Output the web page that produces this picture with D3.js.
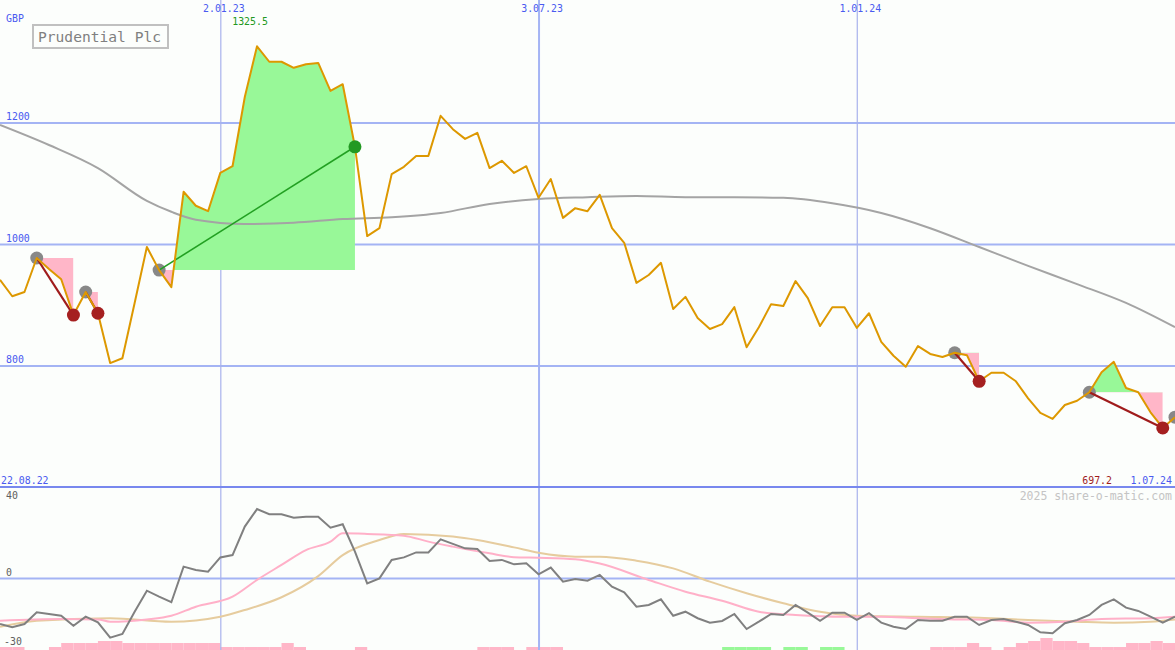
<!DOCTYPE html>
<html>
<head>
<meta charset="utf-8">
<script src="https://cdn.jsdelivr.net/npm/d3@7/dist/d3.min.js"></script>
<style>
  html, body { margin: 0; padding: 0; background: #fcfefc; }
  svg { display: block; }
  text { font-family: "DejaVu Sans Mono", monospace; }
</style>
</head>
<body>
<svg id="chart" width="1175" height="650"></svg>
<script>
// ---------------- DATA ----------------
const title = "Prudential Plc";
const currency = "GBP";
const edgeLabels = ["22.08.22", "1.07.24"];
const credit = "2025 share-o-matic.com";

// weekly closes (GBp), from 29.08.22 to 1.07.24
const closes = [941,914,921,977,959,942,883,921,886,804,
  812,903,995,957,929,1086,1063,1054,1117,1128,
  1242,1325.5,1300,1300,1290,1296,1298,1252,1263,1160,
  1013,1026,1115,1127,1145,1145,1211,1189,1173,1183,
  1125,1137,1117,1128,1076,1107,1043,1059,1054,1081,
  1026,1002,936,949,969,893,913,878,860,868,
  896,830,863,901,898,939,911,865,896,896,
  862,886,839,816,798,832,819,814,821,817,
  774,788,788,774,746,722,712,735,742,756,
  789,806,763,756,723,697.2,715];

// long moving average (week index, value)
const maWeeks  = [0,4,8,12,14,16,20,24,28,32,36,40,44,48,52,56,60,64,68,72,76,80,84,88,92,96];
const maValues = [1196,1163,1125,1071,1053,1040,1033,1035,1041,1044,1051,1066,1074,1077,1079,1077,1077,1076,1067,1051,1026,995,964,934,903,863];

// oscillator (grey), weekly
const osc = [-23.9,-25.6,-23.9,-17.8,-18.7,-19.6,-24.8,-20.1,-23.0,-31.0,
  -29.1,-17.5,-6.6,-9.7,-12.6,5.9,4.2,3.3,10.7,11.9,
  26.7,35.8,33.1,33.1,31.3,31.8,31.8,26.1,27.9,13.7,
  -2.8,-0.2,9.4,10.7,13.3,13.3,20.1,17.7,15.4,15.1,
  8.8,9.4,7.1,7.6,1.9,5.4,-1.9,-0.5,-1.4,1.6,
  -4.5,-7.4,-14.9,-14.0,-11.1,-19.6,-17.5,-20.9,-23.2,-22.3,
  -18.7,-26.5,-22.7,-18.7,-19.2,-14.0,-18.0,-22.2,-18.0,-18.0,
  -21.8,-18.3,-23.2,-25.3,-26.5,-21.8,-22.2,-22.2,-20.1,-20.1,
  -24.4,-21.8,-21.3,-22.7,-24.4,-28.2,-28.7,-23.5,-21.8,-19.2,
  -14.0,-11.1,-15.4,-17.1,-20.1,-23.2,-20.1];

// fast signal (pink)
const fastWeeks  = [0,5,8,9,12,14,16,19,21,23,25,27,28,30,33,35,37,40,42,44,47,49,53,56,59,62,65,69,72,75,78,81,84,87,90,94,96];
const fastValues = [-22.2,-21.3,-21.5,-22.7,-21.5,-19.6,-14.9,-9.7,-1.0,6.8,14.5,18.9,23.2,22.9,22.0,18.9,16.3,12.8,10.8,10.5,9.7,7.5,-1.0,-7.1,-11.8,-17.5,-19.2,-20.1,-20.1,-20.9,-21.5,-21.8,-23.2,-22.7,-21.3,-20.9,-20.1];

// slow signal (tan)
const slowWeeks  = [0,3,9,14,18,20,23,26,28,31,33,37,39,42,44,47,49,52,55,58,61,64,67,70,75,80,84,88,91,94,96];
const slowValues = [-25.3,-22.2,-20.9,-22.7,-20.1,-16.6,-10.0,1.0,11.9,19.7,22.9,21.5,19.7,15.9,13.1,11.1,11.1,9.0,5.0,-1.9,-7.9,-13.1,-17.5,-19.6,-20.1,-20.6,-21.8,-22.7,-23.2,-22.7,-21.5];

// weekly histogram bars (positive = pink, negative = green)
const bars = [3,3,0,0,3,7,7,7,9,9, 7,7,7,7,7,7,7,7,3,3,
  3,3,3,7,3,0,0,0,0,3, 0,0,0,0,0,0,0,0,0,3,
  3,3,0,3,3,3,0,0,0,0, 0,0,0,0,0,0,0,0,0,-3,
  -3,-3,-3,0,-3,-3,0,-3,-3,0, 0,0,0,0,0,0,3,3,3,7,
  3,0,3,7,9,12,9,9,7,3, 3,3,7,7,9,7,0];

// trades (week index of entry / exit)
const tradeEntries = [3,7,13,78,89,96];
const tradeExits   = [6,8,29,80,95,null];

const priceTicks = [800,1000,1200];
const dateTicks = ["2023-01-02","2023-07-03","2024-01-01"];
const oscLabels = [40,0,-30];
const oscGrid = [0];

(function () {
// ---------------- SETUP ----------------
const W = 1175, H = 650, PB = 487;
const svg = d3.select("#chart");
const dates = d3.utcMonday.range(new Date(Date.UTC(2022,7,29)), new Date(Date.UTC(2024,6,2)));
const x = d3.scaleUtc().domain([dates[0], dates[dates.length-1]]).range([0, W]);
const xi = i => x(dates[i]);
const y = d3.scaleLinear().domain([600, 1400]).range([PB, 1]);
const yO = d3.scaleLinear().domain([0, 40]).range([578, 501]);
const barH = d3.scaleLinear().domain([0, 12]).range([0, 12]);
const fmt = d3.utcFormat("%-d.%m.%y");

const pink = "#ffb6c8", green = "#98f898";
const FS = "9.9px";

svg.append("rect").attr("width", W).attr("height", H).attr("fill", "#fcfefc");

const defs = svg.append("defs");
defs.append("clipPath").attr("id","clipTop").append("rect").attr("x",0).attr("y",0).attr("width",W).attr("height",PB);
defs.append("clipPath").attr("id","clipBot").append("rect").attr("x",0).attr("y",PB).attr("width",W).attr("height",H-PB);

// ---------------- LOWER PANEL ----------------
const botG = svg.append("g").attr("clip-path","url(#clipBot)");
botG.selectAll("rect.bar").data(bars.map((v,i)=>({v,i})).filter(d=>d.v!==0 && d.i < dates.length-1))
  .join("rect").attr("class","bar")
  .attr("x", d => xi(d.i))
  .attr("width", d => xi(d.i+1) - xi(d.i))
  .attr("y", d => H - barH(Math.abs(d.v)))
  .attr("height", d => barH(Math.abs(d.v)))
  .attr("fill", d => d.v > 0 ? pink : green);

const oscAxis = d3.axisRight(yO).tickValues(oscGrid).tickSize(W).tickFormat("");
const oa = svg.append("g").call(oscAxis);
oa.select(".domain").remove();
oa.selectAll("line").attr("stroke","#a4b4f4").attr("stroke-width",2);

const priceAxis = d3.axisRight(y).tickValues(priceTicks).tickSize(W).tickFormat(d3.format("d"));
const pa = svg.append("g").call(priceAxis);
pa.select(".domain").remove();
pa.selectAll("line").attr("stroke","#a4b4f4").attr("stroke-width",2);
pa.selectAll("text").attr("x",6).attr("dy",-3).attr("text-anchor","start")
  .attr("fill","#4a5af0").attr("font-size",FS).attr("font-family","DejaVu Sans Mono");

const dateAxis = d3.axisBottom(x).tickValues(dateTicks.map(s => new Date(s+"T00:00:00Z"))).tickSize(H).tickFormat(fmt);
const da = svg.append("g").call(dateAxis);
da.select(".domain").remove();
da.selectAll("line").attr("stroke", d => d.getUTCMonth()===0 ? "#a8b2ec" : "#a4b4f4")
  .attr("stroke-width", d => d.getUTCMonth()===0 ? 1.2 : 2);
da.selectAll("text").attr("y",12).attr("dy",0).attr("dx",3).attr("fill","#4a5af0")
  .attr("font-size",FS).attr("font-family","DejaVu Sans Mono");

svg.append("line").attr("x1",0).attr("x2",W).attr("y1",y(600)).attr("y2",y(600))
  .attr("stroke","#7888ee").attr("stroke-width",2.2);

const lineO = d3.line().x(d => xi(d[0])).y(d => yO(d[1]));
const botLines = svg.append("g").attr("clip-path","url(#clipBot)");
botLines.append("path").datum(slowWeeks.map((w,k)=>[w, slowValues[k]]))
  .attr("d", lineO.curve(d3.curveMonotoneX)).attr("fill","none").attr("stroke","#e6cc9e").attr("stroke-width",2);
botLines.append("path").datum(fastWeeks.map((w,k)=>[w, fastValues[k]]))
  .attr("d", lineO.curve(d3.curveMonotoneX)).attr("fill","none").attr("stroke","#ffb0c8").attr("stroke-width",2);
botLines.append("path").datum(osc.map((v,i)=>[i,v]))
  .attr("d", lineO.curve(d3.curveLinear)).attr("fill","none").attr("stroke","#808080").attr("stroke-width",2);

svg.selectAll("text.olab").data(oscLabels).join("text").attr("class","olab")
  .attr("x", d => d < 0 ? 4 : 6)
  .attr("y", (d,k) => k === oscLabels.length-1 ? H-5 : yO(d)-2)
  .attr("fill","#606060").attr("font-size",FS).text(d => d);

// ---------------- PRICE PANEL ----------------
const topG = svg.append("g").attr("clip-path","url(#clipTop)");

tradeEntries.forEach((e, k) => {
  const ex = tradeExits[k];
  if (ex === null) return;
  const lvl = y(closes[e]);
  const seg = d3.range(e, ex+1);
  const area = d3.area().x(i => xi(i)).y0(lvl).y1(i => y(closes[i]));
  const ca = defs.append("clipPath").attr("id","ta"+k);
  ca.append("rect").attr("x",xi(e)).attr("width",xi(ex)-xi(e)).attr("y",0).attr("height",lvl);
  const cb = defs.append("clipPath").attr("id","tb"+k);
  cb.append("rect").attr("x",xi(e)).attr("width",xi(ex)-xi(e)).attr("y",lvl).attr("height",PB-lvl);
  topG.append("path").datum(seg).attr("d",area).attr("fill",green).attr("clip-path","url(#ta"+k+")");
  topG.append("path").datum(seg).attr("d",area).attr("fill",pink).attr("clip-path","url(#tb"+k+")");
});

topG.append("path").datum(maWeeks.map((w,k)=>[w, maValues[k]]))
  .attr("d", d3.line().x(d=>xi(d[0])).y(d=>y(d[1])).curve(d3.curveMonotoneX))
  .attr("fill","none").attr("stroke","#a4a4a4").attr("stroke-width",2);

topG.selectAll("circle.entry").data(tradeEntries).join("circle").attr("class","entry")
  .attr("cx", i => xi(i)).attr("cy", i => y(closes[i])).attr("r",6.5).attr("fill","#888888");

tradeEntries.forEach((e,k) => {
  const ex = tradeExits[k];
  if (ex === null) return;
  const gain = closes[ex] > closes[e];
  topG.append("line").attr("x1",xi(e)).attr("y1",y(closes[e])).attr("x2",xi(ex)).attr("y2",y(closes[ex]))
    .attr("stroke", gain ? "#22a022" : "#a01c1c").attr("stroke-width", gain ? 1.6 : 2.2);
});

topG.append("path").datum(closes)
  .attr("d", d3.line().x((d,i)=>xi(i)).y(d=>y(d)))
  .attr("fill","none").attr("stroke","#dd9800").attr("stroke-width",2).attr("stroke-linejoin","round");

const exitsArr = tradeEntries.map((e,k)=>({e, x: tradeExits[k]})).filter(d => d.x !== null);
topG.selectAll("circle.exit").data(exitsArr).join("circle").attr("class","exit")
  .attr("cx", d => xi(d.x)).attr("cy", d => y(closes[d.x])).attr("r",6.5)
  .attr("fill", d => closes[d.x] > closes[d.e] ? "#229922" : "#a52020");

// ---------------- TEXT ----------------
svg.append("text").attr("x",6).attr("y",22).attr("fill","#4a5af0").attr("font-size",FS).text(currency);
svg.append("rect").attr("x",33).attr("y",25).attr("width",135).attr("height",23)
  .attr("fill","none").attr("stroke","#c0c0c0").attr("stroke-width",2);
svg.append("text").attr("x",38).attr("y",42).attr("fill","#808080").attr("font-size","14.6px").text(title);

const maxI = d3.maxIndex(closes), minI = d3.minIndex(closes);
svg.append("text").attr("x", xi(maxI)-7).attr("y",25).attr("text-anchor","middle")
  .attr("fill","#229922").attr("font-size",FS).text(d3.format(".1f")(closes[maxI]));

svg.append("text").attr("x",1).attr("y",484).attr("fill","#4a5af0").attr("font-size",FS).text(edgeLabels[0]);
svg.append("text").attr("x",W-3).attr("y",484).attr("text-anchor","end").attr("fill","#4a5af0").attr("font-size",FS).text(edgeLabels[1]);
svg.append("text").attr("x",1112).attr("y",484).attr("text-anchor","end").attr("fill","#a01c1c").attr("font-size",FS).text(d3.format(".1f")(closes[minI]));
svg.append("text").attr("x",W-3).attr("y",500).attr("text-anchor","end").attr("fill","#c4c4c4").attr("font-size","11.5px").text(credit);
})();
</script>
</body>
</html>
